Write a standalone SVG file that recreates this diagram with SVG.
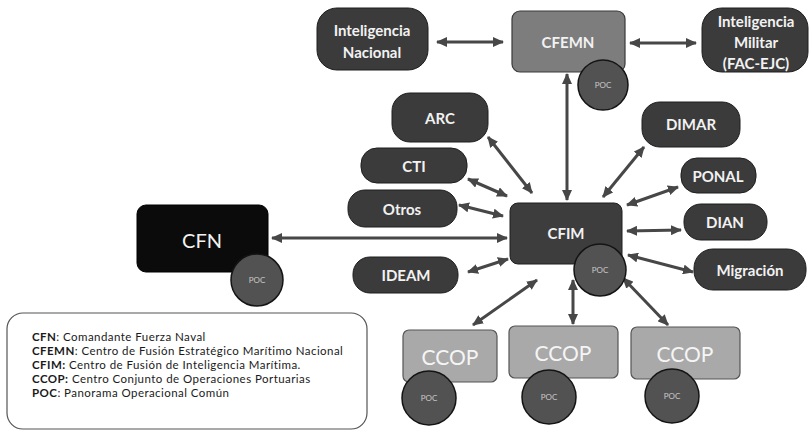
<svg xmlns="http://www.w3.org/2000/svg" width="810" height="432" viewBox="0 0 810 432">
<style>
.dk{fill:#3b3b3b;stroke:#1e1e1e;stroke-width:1}
.t{font-family:Lato,"Open Sans","Liberation Sans",sans-serif;font-weight:bold;font-size:15px;fill:#f2f2f2;text-anchor:middle;dominant-baseline:central}
.poc circle{fill:#525252;stroke:#141414;stroke-width:1.5}
.poc text{font-family:Lato,"Liberation Sans",sans-serif;font-size:8px;fill:#c8c8c8;text-anchor:middle;dominant-baseline:central}
.cc{fill:#a9a9a9;stroke:#555;stroke-width:1.2}
.ct{font-family:Lato,"Liberation Sans",sans-serif;font-size:21px;fill:#f5f5f5;text-anchor:middle;dominant-baseline:central}
#connectors line{stroke:#474747;stroke-width:3;marker-start:url(#ah);marker-end:url(#ah)}
.lg{font-family:Lato,"Liberation Sans",sans-serif;font-size:11.5px;letter-spacing:0.45px;fill:#1a1a1a}
.lg tspan.b{font-weight:bold}
</style>
<defs>
<marker id="ah" markerUnits="userSpaceOnUse" markerWidth="11" markerHeight="10" refX="10" refY="5" orient="auto-start-reverse">
<path d="M0,0 L11,5 L0,10 z" fill="#474747"/>
</marker>
</defs>
<rect width="810" height="432" fill="#ffffff"/>

<g id="connectors">
<line x1="437" y1="42" x2="503" y2="42"/>
<line x1="630" y1="43" x2="696" y2="43"/>
<line x1="567" y1="200" x2="567" y2="74"/>
<line x1="488" y1="137" x2="532" y2="193"/>
<line x1="468" y1="179" x2="507" y2="196"/>
<line x1="459" y1="205" x2="503" y2="216"/>
<line x1="272" y1="238" x2="507" y2="238"/>
<line x1="468" y1="272" x2="508" y2="259"/>
<line x1="603" y1="197" x2="644" y2="147"/>
<line x1="627" y1="205" x2="678" y2="187"/>
<line x1="627" y1="231" x2="681" y2="230"/>
<line x1="628" y1="255" x2="693" y2="272"/>
<line x1="473" y1="325" x2="537" y2="280"/>
<line x1="573" y1="280" x2="573" y2="324"/>
<line x1="623" y1="278" x2="668" y2="325"/>
</g>

<g id="intNacional">
<rect class="dk" x="317" y="8" width="111" height="62" rx="20"/>
<text class="t" x="372" y="30">Inteligencia</text>
<text class="t" x="372" y="52">Nacional</text>
</g>

<g id="cfemn">
<rect x="512" y="11" width="113" height="61" rx="8" fill="#7d7d7d" stroke="#3a3a3a" stroke-width="1.2"/>
<text class="t" x="568" y="42">CFEMN</text>
<g class="poc"><circle cx="603" cy="85" r="25"/><text x="603" y="85">POC</text></g>
</g>

<g id="intMilitar">
<rect class="dk" x="702" y="8" width="106" height="64" rx="20"/>
<text class="t" x="756" y="21">Inteligencia</text>
<text class="t" x="756" y="42">Militar</text>
<text class="t" x="756" y="63">(FAC-EJC)</text>
</g>

<g id="arc">
<rect class="dk" x="392" y="93" width="96" height="49" rx="18"/>
<text class="t" x="440" y="118">ARC</text>
</g>

<g id="dimar">
<rect class="dk" x="642" y="102" width="98" height="45" rx="18"/>
<text class="t" x="691" y="124">DIMAR</text>
</g>

<g id="cti">
<rect class="dk" x="361" y="148" width="106" height="35" rx="16"/>
<text class="t" x="414" y="166">CTI</text>
</g>

<g id="ponal">
<rect class="dk" x="681" y="158" width="75" height="35" rx="16"/>
<text class="t" x="718" y="176">PONAL</text>
</g>

<g id="otros">
<rect class="dk" x="348" y="190" width="109" height="37" rx="17"/>
<text class="t" x="402" y="209">Otros</text>
</g>

<g id="dian">
<rect class="dk" x="684" y="204" width="83" height="36" rx="17"/>
<text class="t" x="725" y="222">DIAN</text>
</g>

<g id="cfim">
<rect x="510" y="203" width="112" height="61" rx="8" fill="#3d3d3d" stroke="#1e1e1e" stroke-width="1"/>
<text class="t" x="566" y="233">CFIM</text>
<g class="poc"><circle cx="600" cy="270" r="26"/><text x="600" y="270">POC</text></g>
</g>

<g id="ideam">
<rect class="dk" x="353" y="257" width="105" height="36" rx="17"/>
<text class="t" x="406" y="275">IDEAM</text>
</g>

<g id="migracion">
<rect class="dk" x="694" y="249" width="112" height="41" rx="19"/>
<text class="t" x="750" y="270">Migración</text>
</g>

<g id="cfn">
<rect x="137" y="205" width="131" height="67" rx="9" fill="#0b0b0b" stroke="#000" stroke-width="1"/>
<text class="t" x="202" y="240" style="font-size:20px;font-weight:normal">CFN</text>
<g class="poc"><circle cx="257" cy="280" r="26"/><text x="257" y="280">POC</text></g>
</g>

<g id="ccop1">
<rect class="cc" x="403" y="330" width="94" height="52" rx="6"/>
<text class="ct" x="450" y="356">CCOP</text>
<g class="poc"><circle cx="429" cy="398" r="27"/><text x="429" y="398">POC</text></g>
</g>

<g id="ccop2">
<rect class="cc" x="509" y="326" width="109" height="52" rx="6"/>
<text class="ct" x="563" y="352">CCOP</text>
<g class="poc"><circle cx="549" cy="397" r="27"/><text x="549" y="397">POC</text></g>
</g>

<g id="ccop3">
<rect class="cc" x="631" y="327" width="109" height="52" rx="6"/>
<text class="ct" x="685" y="353">CCOP</text>
<g class="poc"><circle cx="672" cy="396" r="27"/><text x="672" y="396">POC</text></g>
</g>

<g id="legend">
<rect x="7" y="313" width="360" height="116" rx="16" fill="#fff" stroke="#555" stroke-width="1.2"/>
<text class="lg" x="32" y="341"><tspan class="b">CFN</tspan>: Comandante Fuerza Naval</text>
<text class="lg" x="32" y="355"><tspan class="b">CFEMN</tspan>: Centro de Fusión Estratégico Marítimo Nacional</text>
<text class="lg" x="32" y="369"><tspan class="b">CFIM:</tspan> Centro de Fusión de Inteligencia Marítima.</text>
<text class="lg" x="32" y="383"><tspan class="b">CCOP:</tspan> Centro Conjunto de Operaciones Portuarias</text>
<text class="lg" x="32" y="397"><tspan class="b">POC</tspan>: Panorama Operacional Común</text>
</g>
</svg>
